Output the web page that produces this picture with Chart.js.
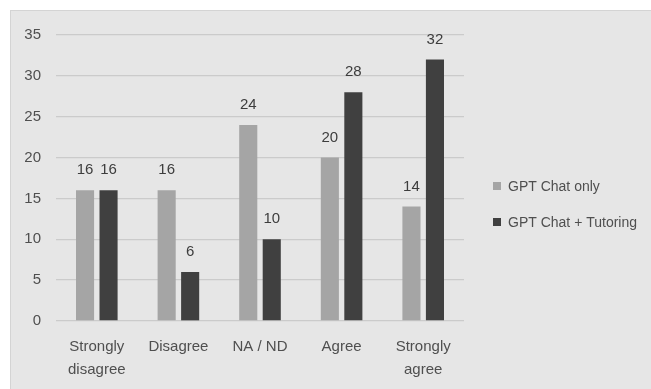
<!DOCTYPE html>
<html>
<head>
<meta charset="utf-8">
<script src="https://cdn.jsdelivr.net/npm/chart.js@4.4.1/dist/chart.umd.min.js"></script>
<style>
  html, body { margin: 0; padding: 0; background: #ffffff; }
  body { width: 651px; height: 389px; position: relative; overflow: hidden; }
  #panel {
    position: absolute; left: 10px; top: 10px; width: 640px; height: 378px;
    background: #e6e6e6; border-left: 1px solid #d4d4d4; border-top: 1px solid #d4d4d4;
  }
  #chart { display: block; }
</style>
</head>
<body>
<div id="panel"><canvas id="chart" width="640" height="378"></canvas></div>
<script>
// Survey responses per answer category
const categories = [["Strongly", "disagree"], "Disagree", "NA / ND", "Agree", ["Strongly", "agree"]];
const seriesNames = ["GPT Chat only", "GPT Chat + Tutoring"];
const chatOnly = [16, 16, 24, 20, 14];
const chatTutoring = [16, 6, 10, 28, 32];
const yTicks = [0, 5, 10, 15, 20, 25, 30, 35];

const seriesColors = ["#a5a5a5", "#404040"];
const FONT = "'Liberation Sans', Arial, sans-serif";
const TEXT = "#4f4f4f";

// Value labels above each bar
const valueLabels = {
  id: 'valueLabels',
  afterDatasetsDraw(chart) {
    const ctx = chart.ctx;
    ctx.save();
    ctx.font = "15px " + FONT;
    ctx.fillStyle = "#3d3d3d";
    ctx.textAlign = "center";
    ctx.textBaseline = "middle";
    chart.data.datasets.forEach((ds, i) => {
      chart.getDatasetMeta(i).data.forEach((bar, j) => {
        ctx.fillText(String(ds.data[j]), bar.x, bar.y - 20);
      });
    });
    ctx.restore();
  }
};

// Legend drawn to the right of the plot
const sideLegend = {
  id: 'sideLegend',
  afterDraw(chart) {
    const ctx = chart.ctx;
    const x0 = chart.chartArea.right + 29;
    const yStart = 175, step = 36, box = 8;
    ctx.save();
    ctx.font = "14px " + FONT;
    ctx.textBaseline = "middle";
    ctx.textAlign = "left";
    chart.data.datasets.forEach((ds, i) => {
      const cy = yStart + i * step;
      ctx.fillStyle = ds.backgroundColor;
      ctx.fillRect(x0, cy - box / 2, box, box);
      ctx.fillStyle = TEXT;
      ctx.fillText(ds.label, x0 + box + 7, cy + 1);
    });
    ctx.restore();
  }
};

new Chart(document.getElementById('chart'), {
  type: 'bar',
  data: {
    labels: categories,
    datasets: [
      { label: seriesNames[0], data: chatOnly, backgroundColor: seriesColors[0] },
      { label: seriesNames[1], data: chatTutoring, backgroundColor: seriesColors[1] }
    ]
  },
  options: {
    responsive: false,
    devicePixelRatio: 1,
    animation: false,
    categoryPercentage: 0.576,
    barPercentage: 0.77,
    layout: { padding: { top: 24, right: 187, bottom: 0, left: 0 } },
    plugins: {
      legend: { display: false },
      tooltip: { enabled: false }
    },
    scales: {
      x: {
        grid: { display: false, drawTicks: false },
        border: { display: false },
        ticks: {
          color: TEXT,
          font: { family: FONT, size: 15, lineHeight: 1.5 },
          padding: 15,
          maxRotation: 0,
          autoSkip: false
        },
        afterFit(scale) { scale.height = 68; }
      },
      y: {
        min: 0,
        max: 35,
        afterBuildTicks(scale) { scale.ticks = yTicks.map(v => ({ value: v })); },
        grid: { color: "#cbcbcb", lineWidth: 1.3, drawTicks: false },
        border: { display: false },
        ticks: {
          color: TEXT,
          font: { family: FONT, size: 15 },
          padding: 15
        },
        afterFit(scale) { scale.width = 45; }
      }
    }
  },
  plugins: [valueLabels, sideLegend]
});
</script>
</body>
</html>
